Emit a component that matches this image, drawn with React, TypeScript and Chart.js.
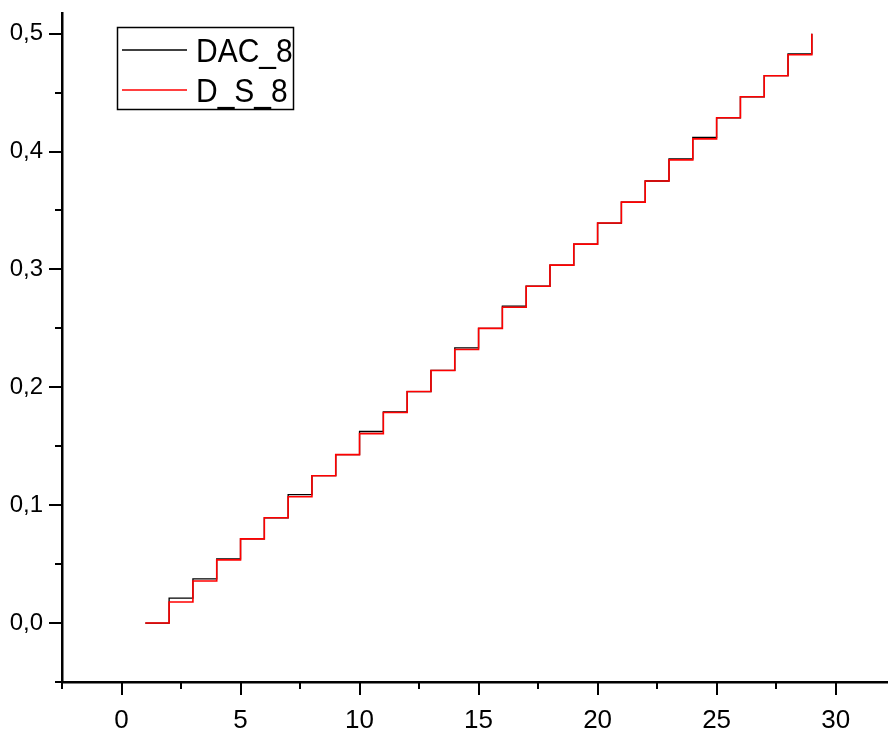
import React, { useEffect, useRef } from 'react';
import { Chart, registerables } from 'chart.js';

Chart.register(...registerables);

const xValues = [1, 2, 3, 4, 5, 6, 7, 8, 9, 10, 11, 12, 13, 14, 15, 16, 17, 18, 19, 20, 21, 22, 23, 24, 25, 26, 27, 28, 29];
const dacValues = [0, 0.0212, 0.0375, 0.0545, 0.0714, 0.0893, 0.109, 0.125, 0.1429, 0.1625, 0.1792, 0.1964, 0.2143, 0.2335, 0.25, 0.2689, 0.2857, 0.3036, 0.3214, 0.3393, 0.3571, 0.375, 0.3938, 0.412, 0.4286, 0.4464, 0.4643, 0.4828, 0.5];
const dsValues = [0, 0.0179, 0.0357, 0.0536, 0.0714, 0.0893, 0.1071, 0.125, 0.1429, 0.1607, 0.1786, 0.1964, 0.2143, 0.2321, 0.25, 0.2679, 0.2857, 0.3036, 0.3214, 0.3393, 0.3571, 0.375, 0.3929, 0.4107, 0.4286, 0.4464, 0.4643, 0.4821, 0.5];
const seriesLabels = ['DAC_8', 'D_S_8'];
const seriesColors = ['#000000', '#ff0000'];
const xMajorTicks = [0, 5, 10, 15, 20, 25, 30];
const xMinorTicks = [-2.5, 2.5, 7.5, 12.5, 17.5, 22.5, 27.5];
const yMajorTicks = [0, 0.1, 0.2, 0.3, 0.4, 0.5];
const yMinorTicks = [-0.05, 0.05, 0.15, 0.25, 0.35, 0.45];

const FONT = '"Liberation Sans", Arial, sans-serif';

const tickMarksPlugin = {
  id: 'tickMarks',
  afterDraw(chart: any) {
    const { ctx, chartArea, scales } = chart;
    const xs = scales.x;
    const ys = scales.y;
    ctx.save();
    ctx.strokeStyle = '#000';
    ctx.lineWidth = 2;
    ctx.beginPath();
    const b = chartArea.bottom;
    const l = chartArea.left;
    xMajorTicks.forEach((v) => {
      const p = Math.round(xs.getPixelForValue(v));
      ctx.moveTo(p, b);
      ctx.lineTo(p, b + 13);
    });
    xMinorTicks.forEach((v) => {
      const p = Math.round(xs.getPixelForValue(v));
      ctx.moveTo(p, b);
      ctx.lineTo(p, b + 7);
    });
    yMajorTicks.forEach((v) => {
      const p = Math.round(ys.getPixelForValue(v));
      ctx.moveTo(l, p);
      ctx.lineTo(l - 13, p);
    });
    yMinorTicks.forEach((v) => {
      const p = Math.round(ys.getPixelForValue(v));
      ctx.moveTo(l, p);
      ctx.lineTo(l - 7, p);
    });
    ctx.stroke();
    ctx.restore();
  },
};

const boxLegendPlugin = {
  id: 'boxLegend',
  afterDraw(chart: any) {
    const { ctx, chartArea } = chart;
    const bx = chartArea.left + 55;
    const by = chartArea.top + 14;
    const bw = 176;
    const bh = 82;
    ctx.save();
    ctx.strokeStyle = '#000';
    ctx.lineWidth = 1.5;
    ctx.strokeRect(bx + 0.5, by + 0.5, bw, bh);
    chart.data.datasets.forEach((ds: any, i: number) => {
      const cy = by + 23 + i * 40;
      ctx.strokeStyle = ds.borderColor;
      ctx.lineWidth = ds.borderWidth;
      ctx.beginPath();
      ctx.moveTo(bx + 5, cy);
      ctx.lineTo(bx + 70, cy);
      ctx.stroke();
      ctx.save();
      ctx.translate(bx + 79, cy + 12);
      ctx.scale(1, 1.1);
      ctx.fillStyle = '#000';
      ctx.font = `30px ${FONT}`;
      ctx.textBaseline = 'alphabetic';
      ctx.textAlign = 'left';
      ctx.fillText(ds.label, 0, 0);
      ctx.restore();
    });
    ctx.restore();
  },
};

export default function App() {
  const canvasRef = useRef<HTMLCanvasElement | null>(null);

  useEffect(() => {
    document.body.style.margin = '0';
    const canvas = canvasRef.current;
    if (!canvas) return;
    const chart = new Chart(canvas, {
      type: 'line',
      data: {
        datasets: [
          {
            label: seriesLabels[0],
            data: xValues.map((x, i) => ({ x, y: dacValues[i] })),
            borderColor: seriesColors[0],
            borderWidth: 1.3,
            stepped: true,
            pointRadius: 0,
            fill: false,
            order: 1,
          },
          {
            label: seriesLabels[1],
            data: xValues.map((x, i) => ({ x, y: dsValues[i] })),
            borderColor: seriesColors[1],
            borderWidth: 1.6,
            stepped: true,
            pointRadius: 0,
            fill: false,
            order: 0,
          },
        ],
      },
      options: {
        animation: false,
        responsive: true,
        maintainAspectRatio: false,
        devicePixelRatio: 1,
        layout: { padding: { top: 13, right: 0, left: 0, bottom: 0 } },
        plugins: {
          legend: { display: false },
          tooltip: { enabled: false },
        },
        scales: {
          x: {
            type: 'linear',
            min: -2.5,
            max: 32.2,
            afterBuildTicks: (s: any) => {
              s.ticks = xMajorTicks.map((v) => ({ value: v }));
            },
            afterFit: (s: any) => {
              s.height = 49;
              s.paddingLeft = 0;
              s.paddingRight = 0;
              s.paddingTop = 0;
              s.paddingBottom = 0;
            },
            grid: { display: false, drawOnChartArea: false, drawTicks: false },
            border: { display: true, color: '#000', width: 2.5 },
            ticks: {
              color: '#000',
              font: { family: FONT, size: 26 },
              padding: 23,
              maxRotation: 0,
              autoSkip: false,
              callback: (v: any) => String(v),
            },
          },
          y: {
            type: 'linear',
            min: -0.05,
            max: 0.5175,
            afterBuildTicks: (s: any) => {
              s.ticks = yMajorTicks.map((v) => ({ value: v }));
            },
            afterFit: (s: any) => {
              s.width = 62;
              s.paddingLeft = 0;
              s.paddingRight = 0;
              s.paddingTop = 0;
              s.paddingBottom = 0;
            },
            grid: { display: false, drawOnChartArea: false, drawTicks: false },
            border: { display: true, color: '#000', width: 2.5 },
            ticks: {
              color: '#000',
              font: { family: FONT, size: 24 },
              padding: 19,
              autoSkip: false,
              callback: (v: any) => Number(v).toFixed(1).replace('.', ','),
            },
          },
        },
      },
      plugins: [tickMarksPlugin, boxLegendPlugin],
    } as any);
    return () => chart.destroy();
  }, []);

  return (
    <div style={{ position: 'absolute', left: 0, top: 0, width: 888, height: 731 }}>
      <canvas ref={canvasRef} />
    </div>
  );
}
